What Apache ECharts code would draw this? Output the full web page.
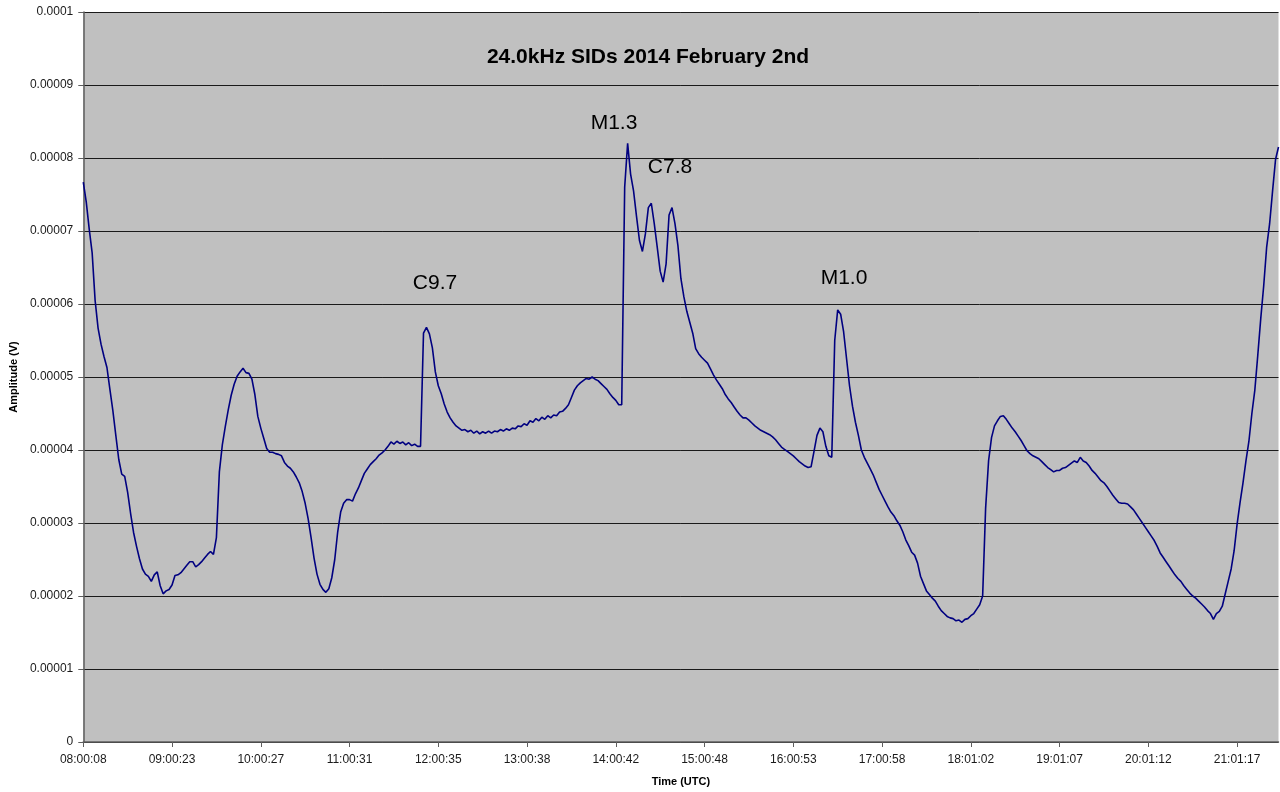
<!DOCTYPE html>
<html>
<head>
<meta charset="utf-8">
<title>24.0kHz SIDs 2014 February 2nd</title>
<script src="https://cdn.jsdelivr.net/npm/echarts@6/dist/echarts.min.js"></script>
<style>
  html, body { margin: 0; padding: 0; background: #ffffff; }
  #chart { width: 1280px; height: 792px; }
</style>
</head>
<body>
<div id="chart"></div>
<script>
// Hourly tick labels on the time axis (UTC)
const tickLabels = [
  '08:00:08', '09:00:23', '10:00:27', '11:00:31', '12:00:35', '13:00:38', '14:00:42',
  '15:00:48', '16:00:53', '17:00:58', '18:01:02', '19:01:07', '20:01:12', '21:01:17'
];

// Receiver amplitude in microvolts, one sample every 2 minutes from 08:00:08
const SAMPLES_PER_HOUR = 30;
const amplitudeMicroV = [
  76.7, 74.0, 70.3, 67.0, 60.5, 56.7, 54.5, 52.8, 51.3, 48.3,
  45.4, 42.0, 38.7, 36.7, 36.4, 34.2, 31.3, 28.7, 26.8, 25.1,
  23.7, 23.0, 22.7, 22.0, 22.9, 23.3, 21.4, 20.3, 20.7, 20.9,
  21.5, 22.8, 22.9, 23.2, 23.7, 24.2, 24.7, 24.7, 24.0, 24.3,
  24.7, 25.2, 25.7, 26.1, 25.7, 28.0, 37.0, 40.7, 43.2, 45.5,
  47.5, 49.0, 50.1, 50.7, 51.2, 50.6, 50.5, 49.7, 47.6, 44.6,
  43.0, 41.6, 40.2, 39.7, 39.7, 39.5, 39.4, 39.2, 38.3, 37.8,
  37.5, 37.0, 36.3, 35.5, 34.3, 32.7, 30.6, 28.0, 25.2, 23.0,
  21.6, 20.9, 20.5, 21.0, 22.5, 25.0, 28.8, 31.5, 32.7, 33.2,
  33.2, 33.0, 34.0, 34.8, 35.8, 36.8, 37.4, 38.0, 38.4, 38.8,
  39.3, 39.6, 40.0, 40.5, 41.1, 40.8, 41.2, 40.9, 41.1, 40.7,
  41.0, 40.6, 40.8, 40.5, 40.5, 56.0, 56.8, 55.9, 54.0, 50.7,
  48.8, 47.7, 46.3, 45.2, 44.4, 43.8, 43.3, 43.0, 42.7, 42.8,
  42.5, 42.7, 42.3, 42.6, 42.2, 42.5, 42.3, 42.6, 42.3, 42.6,
  42.5, 42.8, 42.6, 42.9, 42.7, 43.0, 42.9, 43.3, 43.2, 43.6,
  43.4, 44.0, 43.8, 44.3, 44.0, 44.5, 44.2, 44.7, 44.4, 44.8,
  44.7, 45.2, 45.3, 45.7, 46.2, 47.2, 48.2, 48.8, 49.2, 49.5,
  49.8, 49.7, 50.0, 49.7, 49.5, 49.1, 48.7, 48.3, 47.7, 47.2,
  46.8, 46.2, 46.2, 76.0, 82.0, 77.8, 75.5, 72.0, 68.7, 67.2,
  69.6, 73.2, 73.8, 71.0, 67.8, 64.5, 63.0, 65.5, 72.2, 73.2,
  71.0, 68.0, 63.5, 61.0, 59.0, 57.5, 56.0, 53.9, 53.2, 52.7,
  52.3, 51.9, 51.1, 50.3, 49.6, 49.0, 48.4, 47.6, 47.0, 46.5,
  45.9, 45.3, 44.8, 44.4, 44.4, 44.1, 43.7, 43.3, 43.0, 42.7,
  42.5, 42.3, 42.1, 41.8, 41.4, 40.9, 40.4, 40.1, 39.8, 39.5,
  39.2, 38.8, 38.4, 38.1, 37.8, 37.6, 37.7, 39.8, 42.0, 43.0,
  42.5, 40.5, 39.2, 39.0, 55.0, 59.2, 58.6, 56.2, 52.5, 48.8,
  46.0, 43.8, 42.0, 40.0, 39.0, 38.2, 37.4, 36.6, 35.6, 34.6,
  33.8, 33.0, 32.2, 31.5, 31.0, 30.3, 29.7, 28.8, 27.7, 26.9,
  26.0, 25.6, 24.5, 22.7, 21.7, 20.7, 20.2, 19.7, 19.3, 18.6,
  18.0, 17.6, 17.2, 17.0, 16.9, 16.6, 16.7, 16.4, 16.8, 16.9,
  17.3, 17.6, 18.2, 18.8, 20.0, 32.0, 38.5, 41.7, 43.3, 44.0,
  44.6, 44.7, 44.2, 43.6, 43.0, 42.5, 41.9, 41.3, 40.6, 39.9,
  39.5, 39.2, 39.0, 38.8, 38.4, 38.0, 37.6, 37.3, 37.0, 37.2,
  37.2, 37.5, 37.6, 37.9, 38.2, 38.5, 38.3, 39.0, 38.5, 38.3,
  37.8, 37.2, 36.8, 36.3, 35.8, 35.5, 35.0, 34.4, 33.8, 33.3,
  32.8, 32.7, 32.7, 32.6, 32.2, 31.8, 31.2, 30.6, 30.0, 29.4,
  28.8, 28.2, 27.6, 26.8, 25.9, 25.3, 24.7, 24.1, 23.5, 22.9,
  22.4, 22.0, 21.4, 20.9, 20.4, 20.0, 19.7, 19.3, 18.9, 18.5,
  18.0, 17.6, 16.8, 17.6, 17.9, 18.6, 20.3, 22.0, 23.7, 26.2,
  29.8, 32.8, 35.5, 38.5, 41.2, 45.0, 48.2, 53.0, 58.0, 62.5,
  67.8, 71.0, 75.5, 79.8, 81.5
];

// Flare classes written next to their signatures
const flareNotes = [
  { text: 'C9.7', x: 435, y: 283 },
  { text: 'M1.3', x: 614, y: 123 },
  { text: 'C7.8', x: 670, y: 167 },
  { text: 'M1.0', x: 844, y: 278 }
];

const FONT = '"Liberation Sans", Arial, Helvetica, sans-serif';

const seriesData = amplitudeMicroV.map((u, i) => [i / SAMPLES_PER_HOUR, u * 1e-6]);
const hoursSpan = (amplitudeMicroV.length - 1) / SAMPLES_PER_HOUR;
const hourTicks = tickLabels.map((_, k) => k);

const chart = echarts.init(document.getElementById('chart'), null, { renderer: 'canvas' });

chart.setOption({
  animation: false,
  backgroundColor: '#ffffff',
  title: {
    text: '24.0kHz SIDs 2014 February 2nd',
    left: 643,
    top: 42,
    textAlign: 'center',
    textStyle: { fontFamily: FONT, fontSize: 21, fontWeight: 'bold', color: '#000000' }
  },
  grid: {
    left: 81,
    top: 12,
    width: 1197.5,
    height: 730,
    show: true,
    backgroundColor: '#c0c0c0',
    borderWidth: 0,
    containLabel: false
  },
  xAxis: {
    type: 'value',
    min: 0,
    max: hoursSpan,
    interval: 1,
    name: 'Time (UTC)',
    nameLocation: 'middle',
    nameGap: 34,
    nameTextStyle: { fontFamily: FONT, fontSize: 11, fontWeight: 'bold', color: '#000000' },
    axisLine: { show: true, onZero: false, lineStyle: { color: '#5e5e5e', width: 1.5 } },
    axisTick: { show: true, length: 5, customValues: hourTicks, lineStyle: { color: '#5e5e5e', width: 1 } },
    axisLabel: {
      customValues: hourTicks,
      margin: 12,
      fontFamily: FONT,
      fontSize: 12,
      color: '#1a1a1a',
      formatter: (v) => tickLabels[Math.round(v)] || ''
    },
    splitLine: { show: false }
  },
  yAxis: {
    type: 'value',
    min: 0,
    max: 0.0001,
    interval: 0.00001,
    name: 'Amplitude (V)',
    nameLocation: 'middle',
    nameRotate: 90,
    nameGap: 64,
    nameTextStyle: { fontFamily: FONT, fontSize: 11, fontWeight: 'bold', color: '#000000' },
    axisLine: { show: true, lineStyle: { color: '#5e5e5e', width: 1.5 } },
    axisTick: { show: true, length: 5, lineStyle: { color: '#5e5e5e', width: 1 } },
    axisLabel: {
      margin: 10,
      fontFamily: FONT,
      fontSize: 12,
      color: '#1a1a1a',
      formatter: (v) => (v === 0 ? '0' : String(parseFloat(v.toFixed(5))))
    },
    splitLine: { show: true, lineStyle: { color: '#1a1a1a', width: 1 } }
  },
  graphic: flareNotes.map((n) => ({
    type: 'text',
    x: n.x,
    y: n.y,
    z: 100,
    style: {
      text: n.text,
      fill: '#000000',
      font: '21px ' + FONT,
      textAlign: 'center',
      textVerticalAlign: 'middle'
    }
  })),
  series: [{
    type: 'line',
    data: seriesData,
    showSymbol: false,
    smooth: false,
    lineStyle: { color: '#000080', width: 1.6 },
    emphasis: { disabled: true }
  }]
});
</script>
</body>
</html>
